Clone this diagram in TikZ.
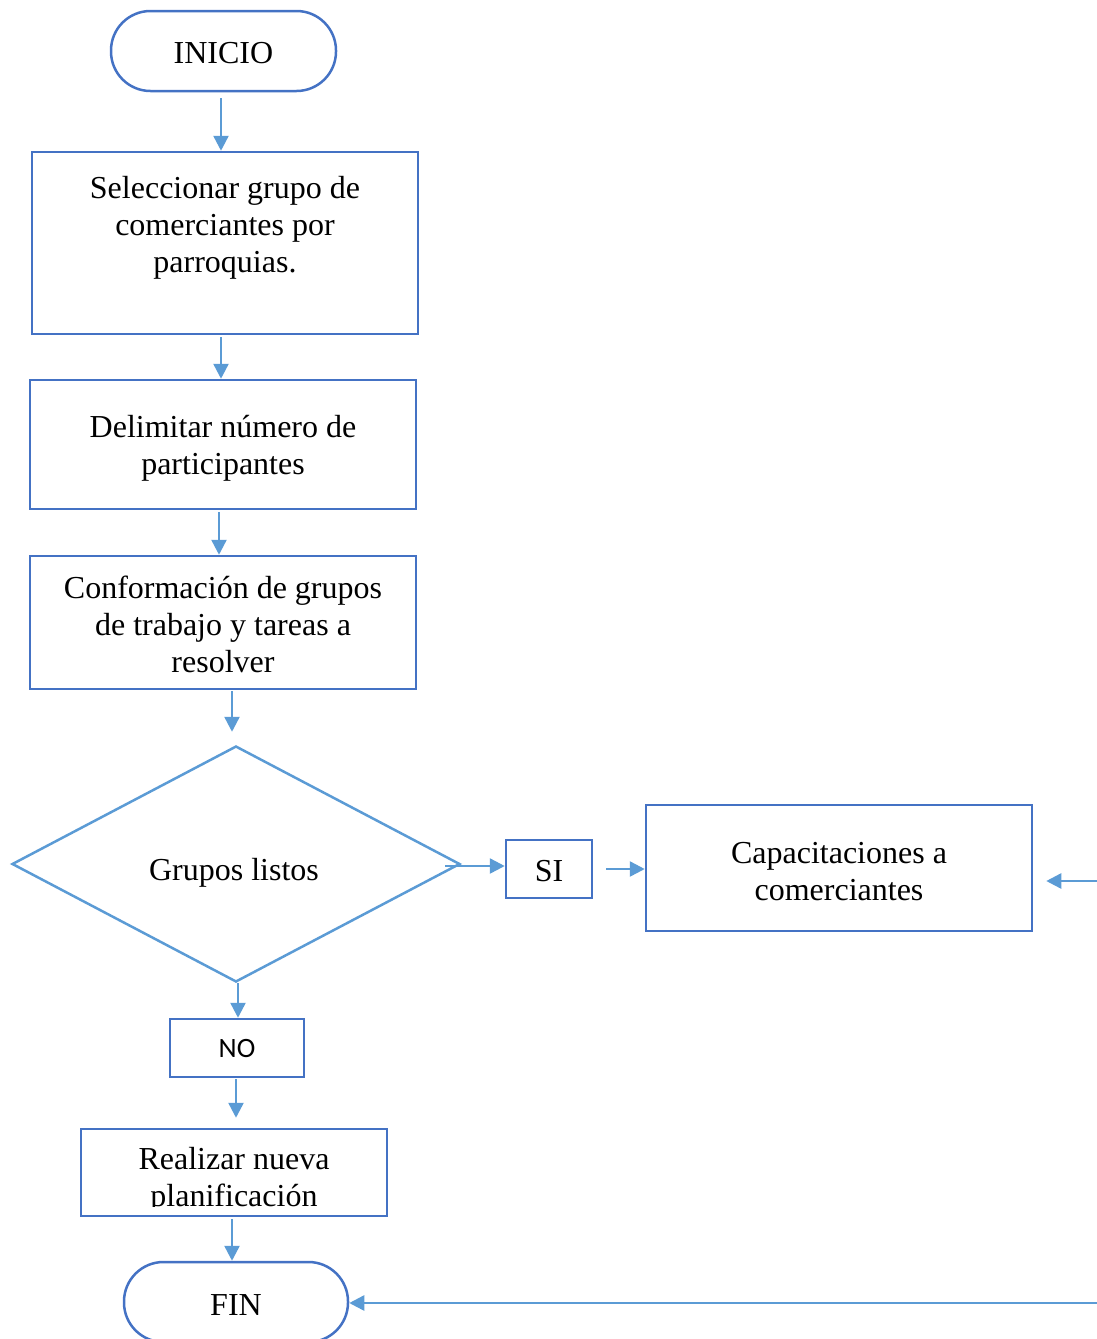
\documentclass[tikz,border=0pt]{standalone}
\usepackage{fontspec}
\setmainfont{Liberation Serif}
\newfontfamily\calfont{Carlito}
\usetikzlibrary{arrows.meta,shapes.geometric}
\definecolor{boxblue}{HTML}{4472C4}
\definecolor{arrblue}{HTML}{5B9BD5}
\begin{document}
\begin{tikzpicture}[x=1pt,y=-1pt,
  box/.style={draw=boxblue,line width=2.5pt,rectangle,inner sep=0pt,
    font=\fontsize{32}{37}\selectfont,align=center},
  term/.style={box,rounded corners=39.5pt},
  txt/.style={font=\fontsize{32}{37}\selectfont,align=center,inner sep=0pt},
  arr/.style={draw=arrblue,line width=2.5pt,-{Triangle[length=15pt,width=15pt]}}]
\useasboundingbox (0,0) rectangle (1097,1339);
\clip (0,0) rectangle (1097,1339);
% nodes
\node[term,minimum width=225pt,minimum height=80pt] (ini) at (223.5,51) {};
\node[txt] (tini) at (223.5,53) {INICIO};
\node[box,minimum width=386pt,minimum height=182pt] (b1) at (225,243) {};
\node[txt] (t1) at (225,228) {Seleccionar grupo de\\comerciantes por\\parroquias.};
\node[box,minimum width=386pt,minimum height=129pt] (b2) at (223,444.5) {};
\node[txt] (t2) at (223,448) {Delimitar número de\\participantes};
\node[box,minimum width=386pt,minimum height=133pt] (b3) at (223,622.5) {};
\node[txt] (t3) at (223,624.5) {Conformación de grupos\\de trabajo y tareas a\\resolver};
\node[draw=arrblue,line width=2.5pt,diamond,inner sep=0pt,minimum width=448pt,minimum height=236pt,aspect=1.9] (dia) at (236,864) {};
\node[txt] (tdia) at (234,873) {Grupos listos};
\node[box,minimum width=86pt,minimum height=58pt] (si) at (549,869) {};
\node[txt] (tsi) at (549,871) {SI};
\node[box,minimum width=386pt,minimum height=126pt] (cap) at (839,868) {};
\node[txt] (tcap) at (839,872) {Capacitaciones a\\comerciantes};
\node[box,minimum width=134pt,minimum height=58pt,font=\calfont\fontsize{28}{32}\selectfont] (no) at (237,1048) {NO};
\node[box,minimum width=306pt,minimum height=87pt] (re) at (234,1172.5) {};
\begin{scope}
  \clip (83,1131) rectangle (385,1206);
  \node[txt] (t5) at (234,1180) {Realizar nueva\\planificación};
\end{scope}
\node[term,minimum width=224pt,minimum height=80pt] (fin) at (236,1302) {};
\node[txt] (tfin) at (236,1305) {FIN};
\coordinate (rin1) at (1097,881);
\coordinate (rin2) at (1097,1303);
\coordinate (dout) at (445,866);
% connectors
\draw[arr,shorten <=6pt] ([xshift=-2.5pt]ini.south) -- ([xshift=-2.5pt]ini.south |- b1.north);
\draw[arr,shorten <=2pt] ([xshift=-4pt]b1.south) -- ([xshift=-4pt]b1.south |- b2.north);
\draw[arr,shorten <=2pt] ([xshift=-4pt]b2.south) -- ([xshift=-4pt]b2.south |- b3.north);
\draw[arr,shorten <=1pt,shorten >=13pt] ([xshift=9pt]b3.south) -- ([xshift=9pt]b3.south |- dia.north);
\draw[arr] (dout) -- (dout -| si.west);
\draw[arr,shorten <=13pt] (si.east) -- (si.east -| cap.west);
\draw[arr,shorten >=13pt] (rin1) -- (rin1 -| cap.east);
\draw[arr] ([xshift=2pt]dia.south) -- ([xshift=2pt]dia.south |- no.north);
\draw[arr,shorten <=1pt,shorten >=10pt] ([xshift=-1pt]no.south) -- ([xshift=-1pt]no.south |- re.north);
\draw[arr,shorten <=2pt] ([xshift=-2pt]re.south) -- ([xshift=-2pt]re.south |- fin.north);
\draw[arr] (rin2) -- (rin2 -| fin.east);
\end{tikzpicture}
\end{document}
